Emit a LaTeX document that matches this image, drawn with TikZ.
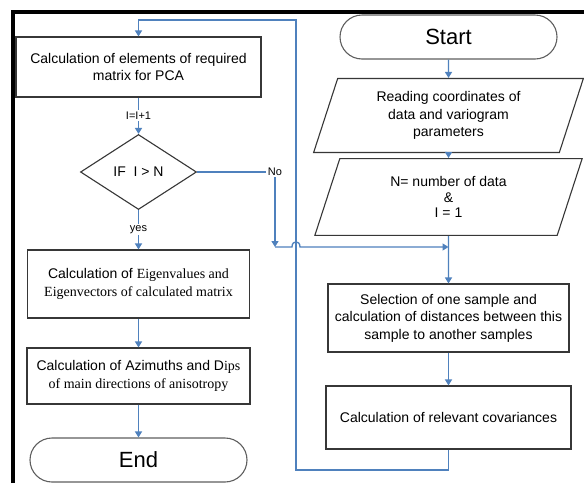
\documentclass[tikz,border=0pt]{standalone}
\usepackage{fontspec}
\setmainfont{Liberation Sans}
\newfontfamily\serifpart{Liberation Serif}
\usetikzlibrary{arrows.meta, positioning, shapes.geometric, shapes.misc}

\definecolor{flowblue}{RGB}{79,129,189}
\definecolor{boxgray}{RGB}{55,55,55}
\definecolor{termgray}{RGB}{95,95,95}

\begin{document}
\begin{tikzpicture}[x=1pt, y=-1pt,
        every node/.style={font=\fontsize{14}{17.5}\selectfont, align=center, inner sep=0pt},
        calcbox/.style={rectangle, draw=boxgray, line width=1.1pt},
        iobox/.style={trapezium, trapezium left angle=72, trapezium right angle=108, draw=boxgray, line width=1.1pt},
        termbox/.style={rounded rectangle, draw=termgray, line width=1.1pt, font=\fontsize{22}{24}\selectfont},
        decision/.style={diamond, draw=boxgray, line width=1.1pt},
        flowline/.style={draw=flowblue, line width=1.3pt, -{Triangle[width=7pt, length=6pt]}},
        looplabel/.style={fill=white, inner sep=1.5pt, font=\fontsize{11}{13}\selectfont}
        ]

        \useasboundingbox (0,0) rectangle (584,483);
        \fill[white] (0,0) rectangle (584,483);
        % frame
        \draw[line width=4pt] (13,483) -- (13,11.5) -- (584,11.5);

        % right column
        \node[termbox, minimum width=217pt, minimum height=44pt] (start) at (448.5,37) {Start};
        \node[iobox, minimum width=270pt, minimum height=53pt] (read) at (448.5,115.5)
            {Reading coordinates of\\data and variogram\\parameters};
        \node[iobox, minimum width=268pt, minimum height=50pt, font=\fontsize{14}{15.5}\selectfont] (count) at (448.5,197)
            {N= number of data\\\&\\I = 1};
        \node[calcbox, minimum width=241pt, minimum height=68pt] (sample) at (448.5,318)
            {Selection of one sample and\\calculation of distances between this\\sample to another samples};
        \node[calcbox, minimum width=245pt, minimum height=63pt] (covar) at (448.5,417.5)
            {Calculation of relevant covariances};

        % left column
        \node[calcbox, minimum width=245pt, minimum height=60pt] (pca) at (138.5,67)
            {Calculation of elements of required\\matrix for PCA};
        \node[decision, minimum width=116pt, minimum height=75pt] (ifnode) at (138.5,172) {IF~~I > N};
        \node[calcbox, minimum width=222pt, minimum height=68pt] (eigen) at (138.5,284)
            {Calculation of {\serifpart Eigenvalues and}\\{\serifpart Eigenvectors of calculated matrix}};
        \node[calcbox, minimum width=223pt, minimum height=56pt] (azim) at (138.5,376)
            {Calculation of Azimuths and D{\serifpart ips}\\{\serifpart of main directions of anisotropy}};
        \node[termbox, minimum width=217pt, minimum height=44pt] (finish) at (138.5,460) {End};

        % bends
        \coordinate (loopbottom) at (448.5,470);
        \coordinate (looptop) at (296,20);
        \coordinate (nocorner) at (275,172);
        \coordinate (nojoin) at (275,247);
        \coordinate (merge) at (448.5,247);

        % connectors
        \draw[flowline] (start) -- (read);
        \draw[flowline] (read) -- (count);
        \draw[flowline] (count) -- (sample);
        \draw[flowline] (sample) -- (covar);
        \draw[flowline] (covar.south) -- (loopbottom) -| (looptop) -| (pca.north);
        \draw[flowline] (pca) -- node[looplabel] {I=I+1} (ifnode);
        \draw[flowline] (ifnode) -- node[looplabel] {yes} (eigen);
        \draw[flowline] (eigen) -- (azim);
        \draw[flowline] (azim) -- (finish);
        \draw[flowline] (ifnode.east) -- (nocorner) -- (nojoin);
        \node[looplabel] at (nocorner) {No};
        \draw[flowline] (nojoin) -- (292,247) .. controls (292,240) and (300,240) .. (300,247) -- (merge);
    \end{tikzpicture}
\end{document}
